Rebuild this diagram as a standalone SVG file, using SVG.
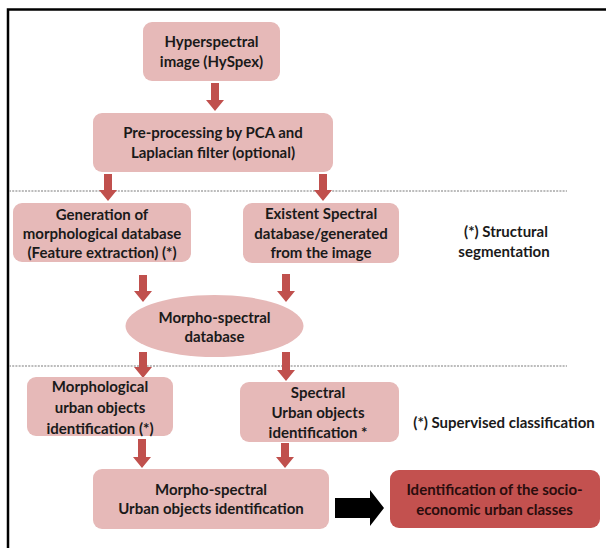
<svg xmlns="http://www.w3.org/2000/svg" width="606" height="548" viewBox="0 0 606 548">
<style>
.box{fill:#e6b9b8;}
.dark{fill:#c3514f;}
.t{font-family:Lato,"Open Sans","Liberation Sans",sans-serif;font-weight:bold;font-size:15px;fill:#1a1a1a;text-anchor:middle;}
.ar{fill:#c0504d;}
.dot{stroke:#a6a6a6;stroke-width:1.5;stroke-dasharray:2 1.2;fill:none;}
.frame{stroke:#000;stroke-width:2.5;fill:none;}
</style>
<rect width="606" height="548" fill="#fff"/>
<path class="frame" d="M8,548 V9.5 H606"/>
<g id="dividers">
<line class="dot" x1="9" y1="191" x2="567" y2="191"/>
<line class="dot" x1="9" y1="366" x2="567" y2="366"/>
</g>
<g id="connectors">
<polygon class="ar" points="211,83 219,83 219,100 224,100 215,111 206,100 211,100"/>
<polygon class="ar" points="104,174 112,174 112,190 117,190 108,201 99,190 104,190"/>
<polygon class="ar" points="319,174 327,174 327,190 332,190 323,201 314,190 319,190"/>
<polygon class="ar" points="139,275 147,275 147,291 152,291 143,302 134,291 139,291"/>
<polygon class="ar" points="282,274 290,274 290,291 295,291 286,302 277,291 282,291"/>
<polygon class="ar" points="139,352 147,352 147,367 152,367 143,378 134,367 139,367"/>
<polygon class="ar" points="282,352 290,352 290,370 295,370 286,381 277,370 282,370"/>
<polygon class="ar" points="138,439 146,439 146,457 151,457 142,468 133,457 138,457"/>
<polygon class="ar" points="281,443 289,443 289,457 294,457 285,468 276,457 281,457"/>
<polygon fill="#000" points="335,498 370,498 370,490 384,508 370,526 370,518 335,518"/>
</g>
<g id="n1">
<rect class="box" x="143" y="22" width="137" height="59" rx="9"/>
<text class="t" x="211.5" y="47">Hyperspectral</text>
<text class="t" x="211.5" y="67">image (HySpex)</text>
</g>
<g id="n2">
<rect class="box" x="93" y="113" width="240" height="59" rx="9"/>
<text class="t" x="213" y="138">Pre-processing by PCA and</text>
<text class="t" x="213" y="158">Laplacian filter (optional)</text>
</g>
<g id="n3">
<rect class="box" x="13" y="203" width="178" height="59" rx="9"/>
<text class="t" x="102" y="220">Generation of</text>
<text class="t" x="102" y="239">morphological database</text>
<text class="t" x="102" y="258">(Feature extraction) (*)</text>
</g>
<g id="n4">
<rect class="box" x="243" y="203" width="156" height="60" rx="9"/>
<text class="t" x="321" y="219">Existent Spectral</text>
<text class="t" x="321" y="239">database/generated</text>
<text class="t" x="321" y="258">from the image</text>
</g>
<g id="note1">
<text class="t" x="506" y="237">(*) Structural</text>
<text class="t" x="504" y="257">segmentation</text>
</g>
<g id="n5">
<ellipse class="box" cx="214.5" cy="326" rx="89" ry="31"/>
<text class="t" x="214.5" y="323">Morpho-spectral</text>
<text class="t" x="214.5" y="342">database</text>
</g>
<g id="n6">
<rect class="box" x="27" y="377" width="146" height="59" rx="9"/>
<text class="t" x="100" y="392">Morphological</text>
<text class="t" x="100" y="413">urban objects</text>
<text class="t" x="100" y="434">identification (*)</text>
</g>
<g id="n7">
<rect class="box" x="240" y="382" width="159" height="60" rx="9"/>
<text class="t" x="318" y="398">Spectral</text>
<text class="t" x="318" y="418">Urban objects</text>
<text class="t" x="318" y="438">identification *</text>
</g>
<g id="note2">
<text class="t" x="504" y="428">(*) Supervised classification</text>
</g>
<g id="n8">
<rect class="box" x="93" y="469" width="236" height="60" rx="9"/>
<text class="t" x="211" y="495">Morpho-spectral</text>
<text class="t" x="211" y="514">Urban objects identification</text>
</g>
<g id="n9">
<rect class="dark" x="390" y="470" width="210" height="58" rx="9"/>
<text class="t" x="494.5" y="495" style="fill:#2a0d0d">Identification of the socio-</text>
<text class="t" x="494.5" y="515" style="fill:#2a0d0d">economic urban classes</text>
</g>
</svg>
